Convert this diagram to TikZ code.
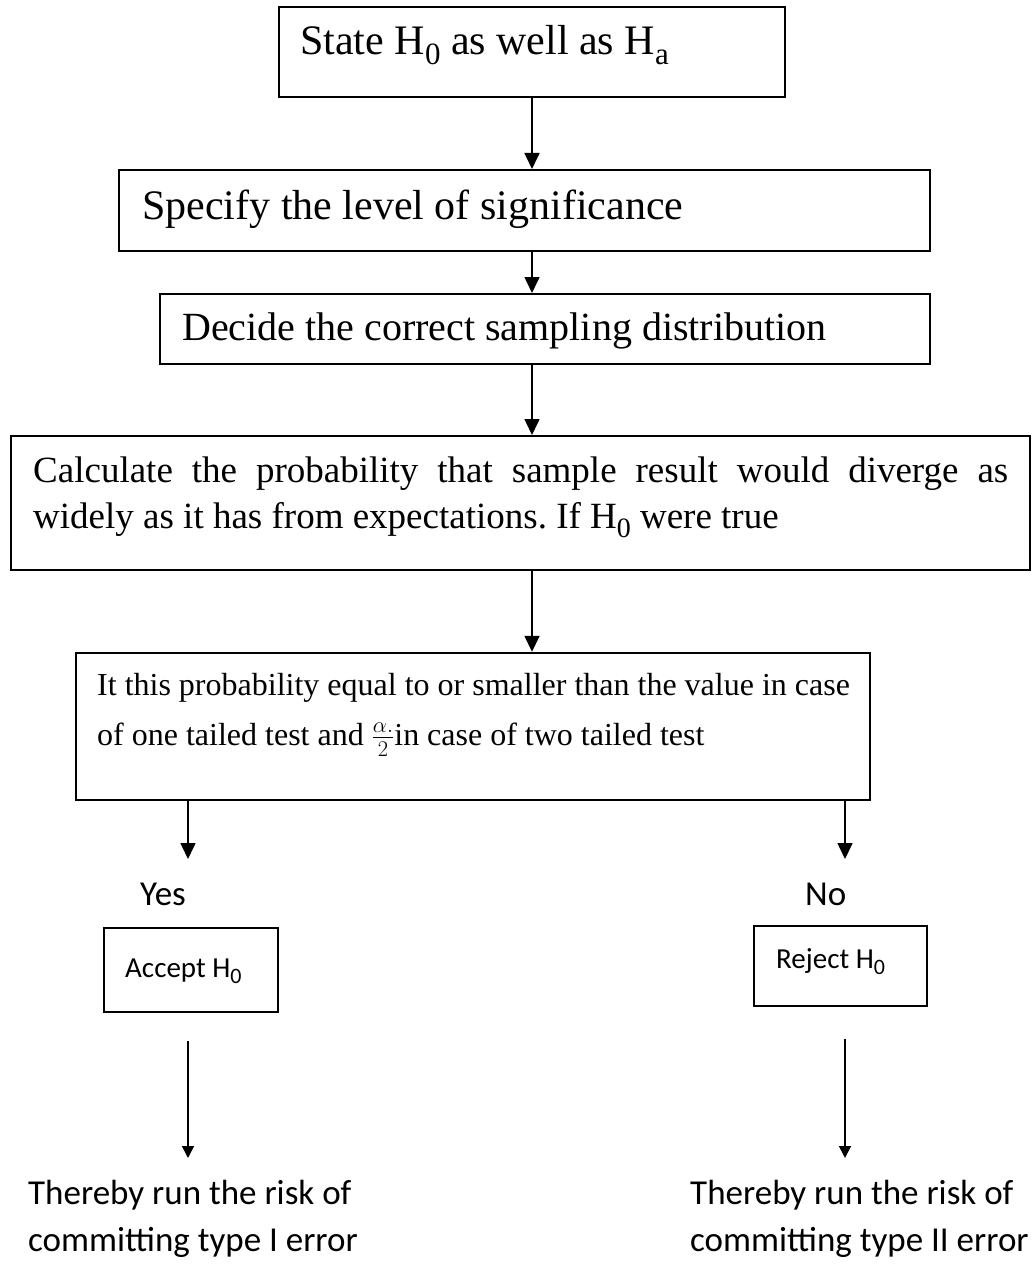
\documentclass[tikz,border=0pt]{standalone}
\usepackage{fix-cm}
\usepackage{fontspec}
\setmainfont{Liberation Serif}
\newfontfamily\calib{Carlito}
\usetikzlibrary{arrows.meta}
\newcommand{\bigsub}[1]{\raisebox{-10pt}{\fontsize{31}{31}\selectfont #1}}
\newcommand{\midsub}[1]{\raisebox{-9pt}{\fontsize{28}{28}\selectfont #1}}
\newcommand{\sanssub}[1]{\raisebox{-6pt}{\fontsize{22}{22}\selectfont #1}}
\frenchspacing
\tikzset{
  box/.style={draw, line width=2pt, inner sep=0pt},
  hugetxt/.style={font=\fontsize{42}{48}\selectfont, inner sep=0pt},
  bigtxt/.style={font=\fontsize{40}{46}\selectfont, inner sep=0pt},
  paratxt/.style={font=\fontsize{37}{46}\selectfont, inner sep=0pt},
  midtxt/.style={font=\fontsize{32}{50}\selectfont, inner sep=0pt},
  sanstxt/.style={font=\calib\fontsize{35}{47}\selectfont, inner sep=0pt},
  smalltxt/.style={font=\calib\fontsize{29}{34}\selectfont, inner sep=0pt},
  arr/.style={line width=1.6pt, -{Triangle[width=15pt,length=16pt]}},
  arrs/.style={line width=1.6pt, -{Triangle[width=12pt,length=12pt]}}
}
\begin{document}
\begin{tikzpicture}[x=1pt,y=-1pt]
\useasboundingbox (0,0) rectangle (1032,1273);
% boxes
\node[box, minimum width=506pt, minimum height=90pt] (b1) at (532,52) {};
\node[box, minimum width=811pt, minimum height=81pt] (b2) at (524.5,210.5) {};
\node[box, minimum width=770pt, minimum height=70pt] (b3) at (545,329) {};
\node[box, minimum width=1019pt, minimum height=134pt] (b4) at (520.5,503) {};
\node[box, minimum width=794pt, minimum height=147pt, line width=2.4pt] (b5) at (473,726.5) {};
\node[box, minimum width=174pt, minimum height=84pt] (acc) at (191,970) {};
\node[box, minimum width=173pt, minimum height=80pt] (rej) at (840.5,966) {};
% texts
\node[hugetxt, anchor=base west] (t1) at (300,55) {State H\bigsub{0} as well as H\bigsub{a}};
\node[hugetxt, anchor=base west] (t2) at (142,220) {Specify the level of significance};
\node[bigtxt, anchor=base west] (t3) at (182,340) {Decide the correct sampling distribution};
\node[paratxt, anchor=base west, text width=975pt, align=justify] (t4) at (33,482)
  {Calculate the probability that sample result would diverge as\linebreak widely as it has from expectations. If H\midsub{0} were true};
\node[midtxt, anchor=base west, align=left] (t5) at (97,745)
  {It this probability equal to or smaller than the value in case\\of one tailed test and $\frac{\alpha.}{2}$in case of two tailed test};
\node[sanstxt, anchor=base west] (yes) at (140,905) {Yes};
\node[sanstxt, anchor=base west] (no) at (805,905) {No};
\node[smalltxt, anchor=base west] (ta) at (125,977) {Accept H\sanssub{0}};
\node[smalltxt, anchor=base west] (tr) at (776,968) {Reject H\sanssub{0}};
\node[sanstxt, anchor=base west, align=left] (e1) at (28,1251) {Thereby run the risk of\\committing type I error};
\node[sanstxt, anchor=base west, align=left] (e2) at (690,1251) {Thereby run the risk of\\committing type II error};
% connector ends
\coordinate (ya) at (188,859);
\coordinate (na) at (845,859);
\coordinate (ae) at (188,1158);
\coordinate (re) at (845,1158);
% connectors
\draw[arr] (b1.south) -- (b1.south |- b2.north);
\draw[arr] (b1.south |- b2.south) -- (b1.south |- b3.north);
\draw[arr] (b1.south |- b3.south) -- (b1.south |- b4.north);
\draw[arr] (b1.south |- b4.south) -- (b1.south |- b5.north);
\draw[arr] (b5.south -| ya) -- (ya);
\draw[arr] (b5.south -| na) -- (na);
\draw[arrs, shorten <=28pt] (acc.south -| ae) -- (ae);
\draw[arrs, shorten <=32pt] (rej.south -| re) -- (re);
\end{tikzpicture}
\end{document}
